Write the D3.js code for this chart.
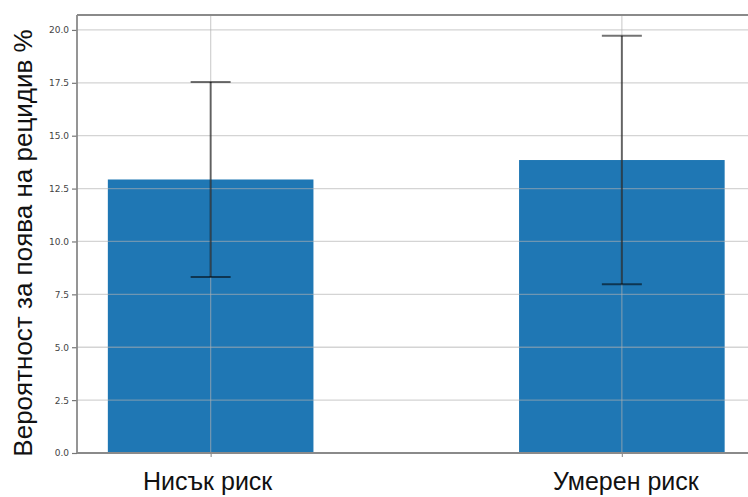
<!DOCTYPE html>
<html>
<head>
<meta charset="utf-8">
<script src="https://cdn.jsdelivr.net/npm/d3@7"></script>
<style>
  html, body { margin: 0; padding: 0; background: #fff; overflow: hidden; }
  svg { display: block; }
</style>
</head>
<body>
<svg id="chart" width="748" height="497"></svg>
<script>
// Recurrence probability by risk group, with error bars
const categories = ["Нисък риск", "Умерен риск"];
const values = [12.93, 13.85];
const errors = [4.61, 5.87];
const yTicks = [0, 2.5, 5, 7.5, 10, 12.5, 15, 17.5, 20];
const yLabel = "Вероятност за поява на рецидив %";

const svg = d3.select("#chart");
const plotLeft = 77, plotTop = 15, plotBottom = 453;
const barWidth = 0.5;

// Linear x positions: bars at 0, 1, with matplotlib-style margins
const x = d3.scaleLinear().domain([-0.325, 1.325]).range([plotLeft, plotLeft + 678.5]);
const yMax = d3.max(values.map((v, i) => v + errors[i])) * 1.05;
const y = d3.scaleLinear().domain([0, yMax]).range([plotBottom, plotTop]);

// Bars
svg.append("g").selectAll("rect").data(values).join("rect")
  .attr("x", (d, i) => x(i - barWidth / 2))
  .attr("width", (d, i) => x(i + barWidth / 2) - x(i - barWidth / 2))
  .attr("y", d => y(d))
  .attr("height", d => y(0) - y(d))
  .attr("fill", "#1f77b4");

// Grid drawn above the bars
const grid = svg.append("g");
grid.selectAll("line.h").data(yTicks).join("line")
  .attr("class", "h")
  .attr("x1", plotLeft).attr("x2", 748)
  .attr("y1", d => y(d)).attr("y2", d => y(d))
  .attr("stroke", "#b0b0b0").attr("stroke-opacity", 0.55).attr("stroke-width", 1.3);
grid.selectAll("line.v").data(categories).join("line")
  .attr("class", "v")
  .attr("x1", (d, i) => x(i)).attr("x2", (d, i) => x(i))
  .attr("y1", plotTop).attr("y2", plotBottom)
  .attr("stroke", "#b0b0b0").attr("stroke-opacity", 0.55).attr("stroke-width", 1.3);

// Error bars
const eb = svg.append("g").attr("stroke", "#000").attr("stroke-opacity", 0.55).attr("stroke-width", 2);
values.forEach((v, i) => {
  const cx = x(i);
  eb.append("line").attr("x1", cx).attr("x2", cx).attr("y1", y(v - errors[i])).attr("y2", y(v + errors[i]));
  [v - errors[i], v + errors[i]].forEach(e => {
    eb.append("line").attr("x1", cx - 20).attr("x2", cx + 20).attr("y1", y(e)).attr("y2", y(e));
  });
});

// Y axis
const yAxis = svg.append("g")
  .attr("transform", `translate(${plotLeft},0)`)
  .call(d3.axisLeft(y).tickValues(yTicks).tickFormat(d3.format(".1f")).tickSize(5).tickPadding(3));
yAxis.select(".domain").remove();
yAxis.selectAll(".tick line").attr("stroke", "#777").attr("stroke-width", 1.2);
yAxis.selectAll(".tick text").attr("fill", "#444")
  .style("font-family", "'DejaVu Sans', sans-serif").style("font-size", "9px");

// X axis ticks
const xAxis = svg.append("g")
  .attr("transform", `translate(0,${plotBottom})`)
  .call(d3.axisBottom(x).tickValues([0, 1]).tickFormat(() => "").tickSize(4));
xAxis.select(".domain").remove();
xAxis.selectAll(".tick line").attr("stroke", "#999").attr("stroke-width", 1.2);

// Spines
const spine = svg.append("g").attr("stroke", "#8a8a8a").attr("stroke-width", 1.8).attr("fill", "none");
spine.append("line").attr("x1", plotLeft).attr("x2", plotLeft).attr("y1", plotTop).attr("y2", plotBottom);
spine.append("line").attr("x1", plotLeft).attr("x2", 748).attr("y1", plotTop).attr("y2", plotTop);
spine.append("line").attr("x1", plotLeft).attr("x2", 748).attr("y1", plotBottom).attr("y2", plotBottom);

// Category labels
svg.append("g").selectAll("text").data(categories).join("text")
  .attr("x", (d, i) => x(i) + (i === 0 ? -3 : 4))
  .attr("y", 490)
  .attr("text-anchor", "middle")
  .style("font-family", "'Liberation Sans', Arial, sans-serif")
  .style("font-size", "25px")
  .attr("fill", "#111")
  .text(d => d);

// Y axis title
svg.append("text")
  .attr("transform", "translate(32,243) rotate(-90)")
  .attr("text-anchor", "middle")
  .style("font-family", "'Liberation Sans', Arial, sans-serif")
  .style("font-size", "26px")
  .attr("fill", "#111")
  .text(yLabel);
</script>
</body>
</html>
